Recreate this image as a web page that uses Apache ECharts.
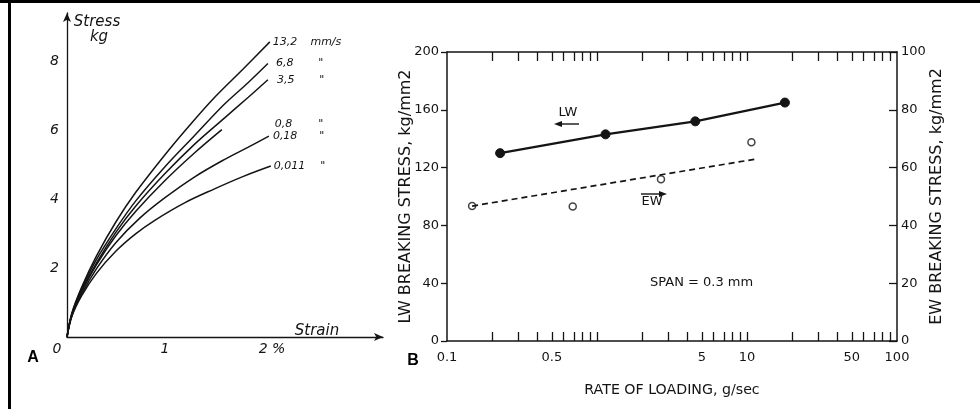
<!DOCTYPE html>
<html><head><meta charset="utf-8">
<script src="https://cdn.jsdelivr.net/npm/echarts@6/dist/echarts.min.js"></script>
<style>html,body{margin:0;padding:0;background:#fff}#c{width:980px;height:409px}</style>
</head><body><div id="c"></div>
<script>
// ---------- Panel A : stress-strain curves ----------
const strainTicks = [0, 1, 2];
const strainTickLabels = ['0', '1', '2 %'];
const stressTicks = [2, 4, 6, 8];
const curveNames = ['13,2', '6,8', '3,5', '0,8', '0,18', '0,011'];
const curveUnits = ['mm/s', '"', '"', '"', '"', '"'];
const curve13_2 = [[0,0],[0.05,0.7],[0.15,1.45],[0.3,2.35],[0.5,3.35],[0.7,4.2],[1.0,5.3],[1.25,6.15],[1.5,6.95],[1.8,7.8],[2.07,8.58]];
const curve6_8  = [[0,0],[0.05,0.68],[0.15,1.4],[0.3,2.25],[0.5,3.15],[0.7,3.95],[1.0,4.95],[1.3,5.85],[1.6,6.75],[1.85,7.4],[2.05,7.95]];
const curve3_5  = [[0,0],[0.05,0.66],[0.15,1.35],[0.3,2.15],[0.5,3.05],[0.7,3.8],[1.0,4.75],[1.3,5.6],[1.6,6.35],[1.85,6.97],[2.05,7.48]];
const curve0_8  = [[0,0],[0.05,0.65],[0.15,1.32],[0.3,2.1],[0.5,2.95],[0.7,3.65],[1.0,4.55],[1.3,5.35],[1.58,6.03]];
const curve0_18 = [[0,0],[0.05,0.62],[0.15,1.25],[0.3,1.98],[0.5,2.75],[0.74,3.45],[1.0,4.05],[1.3,4.65],[1.6,5.15],[1.85,5.52],[2.06,5.84]];
const curve0_011= [[0,0],[0.05,0.6],[0.15,1.2],[0.3,1.85],[0.5,2.5],[0.7,3.0],[0.9,3.4],[1.2,3.9],[1.5,4.3],[1.8,4.67],[2.08,4.97]];
const curves = [curve13_2, curve6_8, curve3_5, curve0_8, curve0_18, curve0_011];

// ---------- Panel B : breaking stress vs rate of loading ----------
const rateTicks = [0.1, 0.5, 5, 10, 50, 100];
const rateTickLabels = ['0.1', '0.5', '5', '10', '50', '100'];
const rateMinorTicks = [0.2,0.3,0.4,0.5,0.6,0.7,0.8,0.9,1,2,3,4,5,6,7,8,9,10,20,30,40,50,60,70,80,90];
const lwTicks = [0, 40, 80, 120, 160, 200];
const ewTicks = [0, 20, 40, 60, 80, 100];
const lwRate = [0.226, 1.14, 4.52, 17.9];
const lwStress = [130, 143, 152, 165];
const ewRate = [0.147, 0.689, 2.67, 10.7];
const ewStress = [46.7, 46.5, 56, 68.8];
const ewFitRate = [0.147, 11.3];
const ewFitStress = [46.7, 62.9];

const INK = '#141414';
const italicFont = {fontFamily: 'DejaVu Sans', fontStyle: 'italic', color: INK};
const bFont = {fontFamily: 'DejaVu Sans', color: INK};

// label layout per curve (styling only)
const labelDist = [3, 8, 9, 5, 4, 3];
const labelOffset = [[0,0],[0,0],[0,0],[48,-5],[0,0],[0,0]];
const labelNumW = [36, 28, 28, 29, 32, 32];

const chart = echarts.init(document.getElementById('c'), null, {renderer: 'canvas'});

const seriesA = curves.map((c, i) => ({
  type: 'line', xAxisIndex: 0, yAxisIndex: 0, data: c, smooth: 0.35,
  showSymbol: false, symbol: 'none', silent: true,
  lineStyle: {color: INK, width: 1.5},
  endLabel: {
    show: true, distance: labelDist[i], offset: labelOffset[i],
    formatter: '{v|' + curveNames[i] + '}{u|' + curveUnits[i] + '}',
    rich: {
      v: Object.assign({}, italicFont, {fontSize: 11, width: labelNumW[i]}),
      u: Object.assign({}, italicFont, {fontSize: 11, width: 34, align: 'center'})
    }
  }
}));

function nearestLabel(v, ticks, labels) {
  let best = 0, d = Infinity;
  ticks.forEach((t, i) => { const dd = Math.abs(Math.log(t) - Math.log(v)); if (dd < d) { d = dd; best = i; } });
  return labels[best];
}

const option = {
  backgroundColor: '#ffffff',
  animation: false,
  grid: [
    {left: 67, top: 13, width: 316, height: 324, outerBoundsMode: 'none', containLabel: false},
    {left: 447, top: 52, width: 450, height: 289, outerBoundsMode: 'none', containLabel: false}
  ],
  xAxis: [
    {type: 'value', gridIndex: 0, min: 0, max: 3.2245,
     axisLine: {show: true, lineStyle: {color: INK, width: 1.3}, symbol: ['none', 'arrow'], symbolSize: [6, 9]},
     axisTick: {show: false}, splitLine: {show: false},
     axisLabel: Object.assign({}, italicFont, {fontSize: 14, margin: 5, customValues: strainTicks,
       formatter: v => '{' + (v === 0 ? 'z' : v === 2 ? 't' : 'o') + '|' + strainTickLabels[strainTicks.indexOf(v)] + '}',
       rich: {
         z: Object.assign({}, italicFont, {fontSize: 14, padding: [0, 20, 0, 0]}),
         o: Object.assign({}, italicFont, {fontSize: 14}),
         t: Object.assign({}, italicFont, {fontSize: 14, padding: [0, 0, 0, 18]})
       }})
    },
    {type: 'log', gridIndex: 1, logBase: 10, min: 0.1, max: 100, position: 'bottom',
     axisLine: {show: true, onZero: false, lineStyle: {color: INK, width: 1.5}},
     axisTick: {show: true, inside: true, length: 9, lineStyle: {color: INK, width: 1.3}, customValues: rateMinorTicks},
     minorTick: {show: false}, splitLine: {show: false},
     axisLabel: Object.assign({}, bFont, {fontSize: 13, margin: 10, customValues: rateTicks,
       formatter: v => nearestLabel(v, rateTicks, rateTickLabels)}),
     name: 'RATE OF LOADING, g/sec', nameLocation: 'middle', nameGap: 42, nameMoveOverlap: false,
     nameTextStyle: Object.assign({}, bFont, {fontSize: 14.2})
    },
    {type: 'log', gridIndex: 1, logBase: 10, min: 0.1, max: 100, position: 'top',
     axisLine: {show: true, onZero: false, lineStyle: {color: INK, width: 1.5}},
     axisTick: {show: true, inside: true, length: 9, lineStyle: {color: INK, width: 1.3}, customValues: rateMinorTicks},
     minorTick: {show: false}, splitLine: {show: false}, axisLabel: {show: false}
    }
  ],
  yAxis: [
    {type: 'value', gridIndex: 0, min: 0, max: 9.419,
     axisLine: {show: true, lineStyle: {color: INK, width: 1.3}, symbol: ['none', 'arrow'], symbolSize: [6, 9]},
     axisTick: {show: false}, splitLine: {show: false},
     axisLabel: Object.assign({}, italicFont, {fontSize: 14, margin: 8, customValues: stressTicks})
    },
    {type: 'value', gridIndex: 1, min: 0, max: 200, interval: 40, position: 'left',
     axisLine: {show: true, onZero: false, lineStyle: {color: INK, width: 1.5}},
     axisTick: {show: true, inside: false, length: 6, lineStyle: {color: INK, width: 1.3}},
     splitLine: {show: false},
     axisLabel: Object.assign({}, bFont, {fontSize: 13, margin: 8, customValues: lwTicks}),
     name: 'LW BREAKING STRESS, kg/mm2', nameLocation: 'middle', nameGap: 33, nameRotate: 90, nameMoveOverlap: false,
     nameTextStyle: Object.assign({}, bFont, {fontSize: 16})
    },
    {type: 'value', gridIndex: 1, min: 0, max: 100, interval: 20, position: 'right',
     axisLine: {show: true, onZero: false, lineStyle: {color: INK, width: 1.5}},
     axisTick: {show: true, inside: true, length: 8, lineStyle: {color: INK, width: 1.3}},
     splitLine: {show: false},
     axisLabel: Object.assign({}, bFont, {fontSize: 13, margin: 4, customValues: ewTicks}),
     name: 'EW BREAKING STRESS, kg/mm2', nameLocation: 'middle', nameGap: 32, nameRotate: 90, nameMoveOverlap: false,
     nameTextStyle: Object.assign({}, bFont, {fontSize: 16})
    }
  ],
  series: seriesA.concat([
    {type: 'line', name: 'LW', xAxisIndex: 1, yAxisIndex: 1,
     data: lwRate.map((r, i) => [r, lwStress[i]]),
     symbol: 'circle', symbolSize: 9, showSymbol: true,
     itemStyle: {color: INK, borderColor: INK},
     lineStyle: {color: INK, width: 2.2}},
    {type: 'line', name: 'EW fit', xAxisIndex: 1, yAxisIndex: 2,
     data: ewFitRate.map((r, i) => [r, ewFitStress[i]]),
     symbol: 'none', showSymbol: false,
     lineStyle: {color: INK, width: 1.7, type: [6, 4]}},
    {type: 'scatter', name: 'EW', xAxisIndex: 1, yAxisIndex: 2,
     data: ewRate.map((r, i) => [r, ewStress[i]]),
     symbol: 'circle', symbolSize: 7,
     itemStyle: {color: '#ffffff', borderColor: INK, borderWidth: 1.5}}
  ]),
  graphic: [
    // frame
    {type: 'rect', shape: {x: 0, y: 0, width: 980, height: 3}, style: {fill: '#000'}},
    {type: 'rect', shape: {x: 8, y: 0, width: 3, height: 409}, style: {fill: '#000'}},
    // panel letters
    {type: 'text', x: 33, y: 358, style: {text: 'A', font: 'bold 16px "Liberation Sans"', fill: '#000', align: 'center', verticalAlign: 'middle'}},
    {type: 'text', x: 413, y: 361, style: {text: 'B', font: 'bold 16px "Liberation Sans"', fill: '#000', align: 'center', verticalAlign: 'middle'}},
    // panel A axis titles
    {type: 'text', x: 97, y: 22, style: {text: 'Stress', font: 'italic 15px "DejaVu Sans"', fill: INK, align: 'center', verticalAlign: 'middle'}},
    {type: 'text', x: 99, y: 37, style: {text: 'kg', font: 'italic 15px "DejaVu Sans"', fill: INK, align: 'center', verticalAlign: 'middle'}},
    {type: 'text', x: 317, y: 331, style: {text: 'Strain', font: 'italic 15px "DejaVu Sans"', fill: INK, align: 'center', verticalAlign: 'middle'}},
    // panel B annotations
    {type: 'text', x: 568, y: 113, style: {text: 'LW', font: '13px "DejaVu Sans"', fill: INK, align: 'center', verticalAlign: 'middle'}},
    {type: 'line', shape: {x1: 560, y1: 124, x2: 579, y2: 124}, style: {stroke: INK, lineWidth: 1.4}},
    {type: 'polygon', shape: {points: [[554, 124], [562, 121], [562, 127]]}, style: {fill: INK}},
    {type: 'text', x: 652, y: 202, style: {text: 'EW', font: '13px "DejaVu Sans"', fill: INK, align: 'center', verticalAlign: 'middle'}},
    {type: 'line', shape: {x1: 641, y1: 194, x2: 661, y2: 194}, style: {stroke: INK, lineWidth: 1.4}},
    {type: 'polygon', shape: {points: [[667, 194], [659, 191], [659, 197]]}, style: {fill: INK}},
    {type: 'text', x: 650, y: 283, style: {text: 'SPAN = 0.3 mm', font: '13px "DejaVu Sans"', fill: INK, align: 'left', verticalAlign: 'middle'}}
  ]
};
chart.setOption(option);
</script></body></html>
